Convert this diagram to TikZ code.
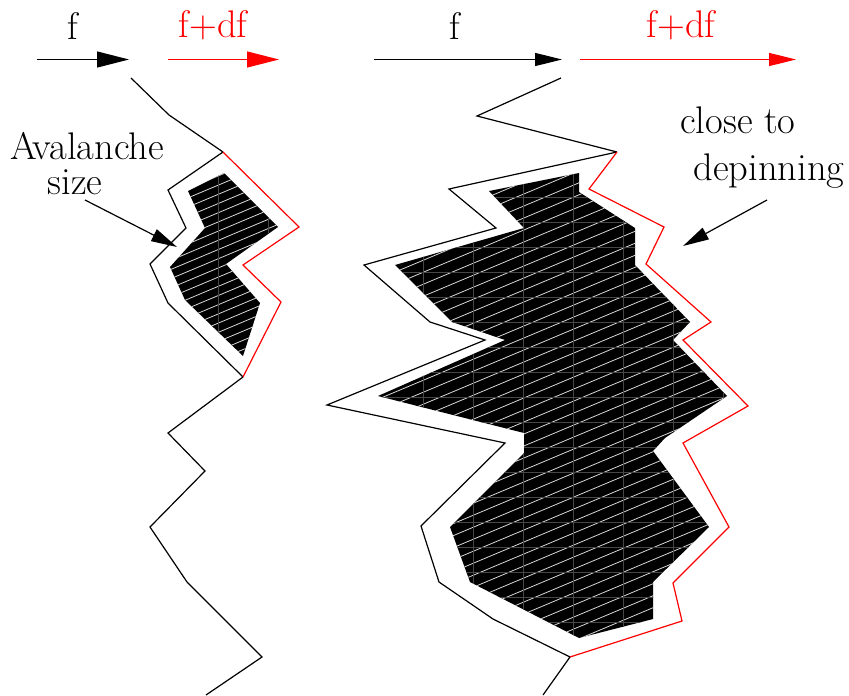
\documentclass[tikz,border=0pt]{standalone}
\usetikzlibrary{arrows.meta}
\begin{document}
\begin{tikzpicture}[x=1pt,y=-1pt,
  wall/.style={line width=1.2pt,line join=miter},
  front/.style={wall,red},
  hatchline/.style={white!85!black,line width=0.8pt},
  tileline/.style={black!72,line width=0.4pt},
  label/.style={inner sep=0pt,anchor=base,font=\fontsize{38.5}{44}\selectfont},
  bigtip/.style={-{Triangle[length=32pt,width=16pt]},line width=1.2pt},
  smalltip/.style={-{Triangle[length=27pt,width=13pt]},line width=1.2pt},
  pointer/.style={-{Triangle[length=26pt,width=13pt]},line width=1.2pt}]
\useasboundingbox (0,0) rectangle (849,696);

% ---------- left wall: avalanche area ----------
\begin{scope}
  \clip (224,173) -- (278,227) -- (226,264) -- (260,303) -- (243,356)
        -- (185,300) -- (170,267) -- (205,228) -- (188,191) -- cycle;
  \fill[black] (150,160) rectangle (300,370);
  \foreach \c in {240,249.2,...,500}
    \draw[hatchline] (150,{\c-0.42*150}) -- (300,{\c-0.42*300});
  \foreach \xx in {218,268} \draw[tileline] (\xx,160) -- (\xx,370);
\end{scope}

% ---------- right wall: avalanche area ----------
\begin{scope}
  \clip (489,191) -- (579,173) -- (579,192) -- (635,228) -- (635,265)
        -- (690,322) -- (673,340) -- (727,396) -- (665,438) -- (653,451)
        -- (709,527) -- (653,582) -- (653,619) -- (579,638) -- (470,582)
        -- (450,527) -- (524,453) -- (524,433) -- (378,396) -- (505,340)
        -- (452,322) -- (395,265) -- (524,228) -- cycle;
  \fill[black] (360,160) rectangle (760,660);
  \foreach \c in {330,342,...,1000}
    \draw[hatchline] (360,{\c-0.42*360}) -- (760,{\c-0.42*760});
  \foreach \xx in {373,423,...,723} \draw[tileline] (\xx,160) -- (\xx,660);
  \foreach \yy in {172,197,...,647} \draw[tileline] (360,\yy) -- (760,\yy);
\end{scope}

% ---------- left wall ----------
\draw[wall] (131,78) -- (169,115) -- (223,152);
\draw[wall] (223,152) -- (168,190) -- (186,228) -- (150,264) -- (168,303) -- (243,377);
\draw[front] (223,152) -- (299,227) -- (243,265) -- (281,302) -- (243,377);
\draw[wall] (243,377) -- (168,433) -- (205,471) -- (150,527) -- (187,582)
            -- (262,657) -- (206,695);

% ---------- right wall ----------
\draw[wall] (561,78) -- (477,116) -- (617,152);
\draw[wall] (617,152) -- (449,189) -- (496,228) -- (364,265) -- (430,322)
            -- (485,340) -- (327,405) -- (505,443) -- (421,526) -- (439,582)
            -- (493,619) -- (570,657) -- (543,695);
\draw[front] (617,152) -- (589,189) -- (664,227) -- (646,264) -- (711,322)
            -- (683,340) -- (748,406) -- (683,443) -- (729,527) -- (673,583)
            -- (682,621) -- (570,657);

% ---------- driving force arrows ----------
\coordinate (fLa) at (37,59.5);   \coordinate (fLb) at (129,59.5);
\coordinate (dLa) at (168,59.5);  \coordinate (dLb) at (279,59.5);
\coordinate (fRa) at (374,59.5);  \coordinate (fRb) at (562,59.5);
\coordinate (dRa) at (580,59.5);  \coordinate (dRb) at (796,59.5);
\draw[bigtip] (fLa) -- (fLb);
\draw[bigtip,red] (dLa) -- (dLb);
\draw[smalltip] (fRa) -- (fRb);
\draw[smalltip,red] (dRa) -- (dRb);

\node[label] (fL) at (73,39) {f};
\node[label,red] (dL) at (213,37) {f+df};
\node[label] (fR) at (455,39) {f};
\node[label,red] (dR) at (681,37) {f+df};

% ---------- annotations ----------
\node[label] (aval) at (87,159) {Avalanche};
\node[label] (size) at (75,194) {size};
\coordinate (avalTip) at (177,247);
\draw[pointer] (85,200) -- (avalTip);

\node[label] (close) at (738,133) {close to};
\node[label] (depin) at (769,180) {depinning};
\coordinate (depinTip) at (683,246);
\draw[pointer] (767,200) -- (depinTip);
\end{tikzpicture}
\end{document}
